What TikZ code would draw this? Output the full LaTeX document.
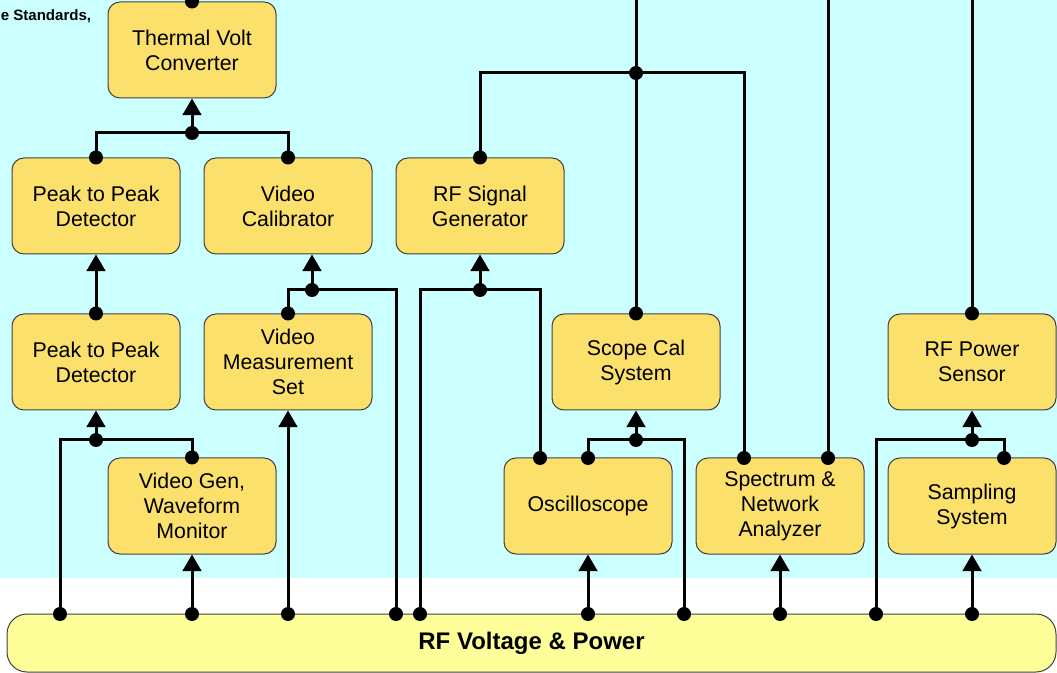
\documentclass[tikz,border=0pt]{standalone}
\usepackage{fontspec}
\setmainfont{Liberation Sans}
\usetikzlibrary{arrows.meta}
\definecolor{bgcyan}{HTML}{CCFFFF}
\definecolor{boxfill}{HTML}{FCE06C}
\definecolor{busfill}{HTML}{FFFF99}
\definecolor{edgegray}{HTML}{404040}
\begin{document}
\begin{tikzpicture}[x=0.75pt,y=-0.75pt,
  box/.style={draw=edgegray,line width=0.75pt,fill=boxfill,rounded corners=9pt,
    minimum width=126pt,minimum height=72pt,inner sep=0pt,align=center,
    font=\fontsize{16}{18.75}\selectfont},
  busbox/.style={draw=edgegray,line width=0.75pt,fill=busfill,rounded corners=15pt,
    minimum width=786.75pt,minimum height=43.5pt,inner sep=0pt,
    font=\bfseries\fontsize{18}{21}\selectfont},
  wire/.style={line width=2.25pt},
  arr/.style={wire,-{Triangle[width=14pt,length=12.5pt]}},
  jdot/.style={fill=black}]
\useasboundingbox (0,0) rectangle (1057,673);
\clip (0,0) rectangle (1057,673);
\fill[white] (0,0) rectangle (1057,673);
\fill[bgcyan] (0,0) rectangle (1057,578);

\node[anchor=base west,inner sep=0pt,font=\bfseries\fontsize{11.3}{13}\selectfont] (std) at (0.5,21) {e Standards,};

% boxes
\node[box] (tvc)  at (192,50)  {Thermal Volt\\Converter};
\node[box] (pp1)  at (96,206)  {Peak to Peak\\Detector};
\node[box] (vcal) at (288,206) {Video\\Calibrator};
\node[box] (rfsg) at (480,206) {RF Signal\\Generator};
\node[box] (pp2)  at (96,362)  {Peak to Peak\\Detector};
\node[box] (vms)  at (288,362) {Video\\Measurement\\Set};
\node[box] (scs)  at (636,362) {Scope Cal\\System};
\node[box] (rfps) at (972,362) {RF Power\\Sensor};
\node[box] (vgen) at (192,506) {Video Gen,\\Waveform\\Monitor};
\node[box] (osc)  at (588,506) {Oscilloscope};
\node[box] (sna)  at (780,506) {Spectrum \&\\Network\\Analyzer};
\node[box] (samp) at (972,506) {Sampling\\System};
\node[busbox] (bus) at (531.5,643) {RF Voltage \& Power};

% junction and port coordinates
\coordinate (j1) at (192,133);
\coordinate (j2) at (96,440);
\coordinate (j3) at (312,290);
\coordinate (j4) at (480,290);
\coordinate (j5) at (636,73);
\coordinate (j6) at (636,440);
\coordinate (j7) at (972,440);
\coordinate (oscA) at (540,458);
\coordinate (oscB) at (588,458);
\coordinate (snaA) at (744,458);
\coordinate (snaB) at (828,458);
\coordinate (sampA) at (1004,458);
\coordinate (t192) at (192,-20);
\coordinate (t636) at (636,-20);
\coordinate (t828) at (828,-20);
\coordinate (t972) at (972,-20);
\foreach \x in {60,192,288,396,420,588,684,780,876,972}
  \coordinate (b\x) at (\x,614);

% connectors
\draw[wire] (tvc.north) -- (t192);
\draw[wire] (pp1.north) |- (j1) -| (vcal.north);
\draw[arr] (j1) -- (tvc.south);
\draw[arr] (pp2.north) -- (pp1.south);
\draw[wire] (b60) |- (j2) -| (vgen.north);
\draw[arr] (j2) -- (pp2.south);
\draw[arr] (b192) -- (vgen.south);
\draw[arr] (b288) -- (vms.south);
\draw[wire] (vms.north) |- (j3) -| (b396);
\draw[arr] (j3) -- (j3 |- vcal.south);
\draw[wire] (b420) |- (j4) -| (oscA);
\draw[arr] (j4) -- (rfsg.south);
\draw[wire] (rfsg.north) |- (j5) -| (snaA);
\draw[wire] (t636) -- (scs.north);
\draw[wire] (t828) -- (snaB);
\draw[wire] (t972) -- (rfps.north);
\draw[wire] (oscB) |- (j6) -| (b684);
\draw[arr] (j6) -- (scs.south);
\draw[arr] (b588) -- (osc.south);
\draw[arr] (b780) -- (sna.south);
\draw[wire] (b876) |- (j7) -| (sampA);
\draw[arr] (j7) -- (rfps.south);
\draw[arr] (b972) -- (samp.south);

% dots
\foreach \p in {tvc.north,pp1.north,vcal.north,j1,pp2.north,j2,vgen.north,vms.north,j3,
  j4,oscA,rfsg.north,j5,snaA,scs.north,snaB,rfps.north,oscB,j6,j7,sampA,
  b60,b192,b288,b396,b420,b588,b684,b780,b876,b972}
  \fill[jdot] (\p) circle[radius=5.25pt];
\end{tikzpicture}
\end{document}
